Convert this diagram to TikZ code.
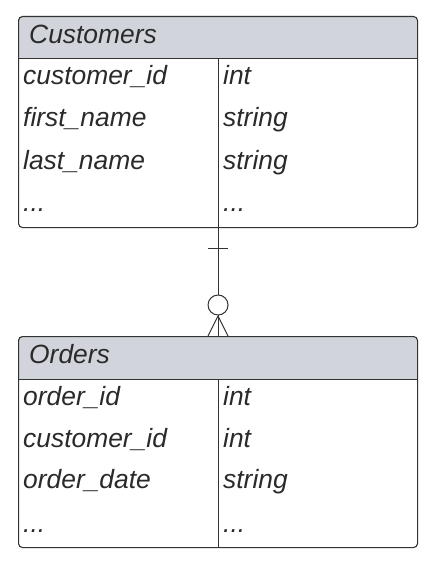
\documentclass[tikz,border=0pt]{standalone}
\usepackage{fontspec}
\setmainfont{Liberation Sans}
\usetikzlibrary{calc}
\definecolor{hdrgray}{HTML}{D1D5DB}
\definecolor{linegray}{HTML}{333333}
\definecolor{txtgray}{HTML}{2A2A2A}
\begin{document}
\begin{tikzpicture}[x=1pt,y=-1pt,
  tablebox/.style={draw=linegray, line width=1.1pt, rounded corners=4pt, minimum width=399pt, minimum height=211pt, inner sep=0pt, anchor=north west},
  sepline/.style={draw=linegray, line width=1pt},
  conn/.style={draw=linegray, line width=1pt},
  cell/.style={anchor=base west, inner sep=0pt, text=txtgray, font=\fontsize{26.4}{30}\selectfont\itshape}]
\useasboundingbox (0,0) rectangle (430,564);
% Customers table
\begin{scope}
  \clip (18,16) rectangle (417,59);
  \fill[hdrgray, rounded corners=4pt] (18,16) rectangle (417,80);
\end{scope}
\node[tablebox] (cust) at (18,16) {};
\draw[sepline] (18,59) -- (417,59);
\draw[sepline] (218,59) -- (218,227);
\node[cell] (custh) at (29,44) {Customers};
\node[cell] (c1a) at (23,85) {customer\_id};
\node[cell] (c1b) at (223,85) {int};
\node[cell] (c2a) at (23,127) {first\_name};
\node[cell] (c2b) at (223,127) {string};
\node[cell] (c3a) at (23,169) {last\_name};
\node[cell] (c3b) at (223,169) {string};
\node[cell] (c4a) at (23,211) {...};
\node[cell] (c4b) at (223,211) {...};
% Orders table
\begin{scope}
  \clip (18,336) rectangle (417,379);
  \fill[hdrgray, rounded corners=4pt] (18,336) rectangle (417,400);
\end{scope}
\node[tablebox] (ord) at (18,336) {};
\draw[sepline] (18,379) -- (417,379);
\draw[sepline] (218,379) -- (218,547);
\node[cell] (orh) at (29,363) {Orders};
\node[cell] (o1a) at (23,405) {order\_id};
\node[cell] (o1b) at (223,405) {int};
\node[cell] (o2a) at (23,447) {customer\_id};
\node[cell] (o2b) at (223,447) {int};
\node[cell] (o3a) at (23,488) {order\_date};
\node[cell] (o3b) at (223,488) {string};
\node[cell] (o4a) at (23,532) {...};
\node[cell] (o4b) at (223,532) {...};
% Relationship connector
\draw[conn] (cust.south) -- (ord.north);
\draw[conn] ($(cust.south)+(-10,20)$) -- ($(cust.south)+(10,20)$);
\coordinate (cf) at ($(ord.north)+(0,-20)$);
\draw[conn] (cf) -- ($(ord.north)+(-10,0)$);
\draw[conn] (cf) -- ($(ord.north)+(10,0)$);
\node[circle, draw=linegray, line width=1pt, fill=white, minimum size=20pt, inner sep=0pt] (opt) at ($(ord.north)+(0,-31)$) {};
\end{tikzpicture}
\end{document}
